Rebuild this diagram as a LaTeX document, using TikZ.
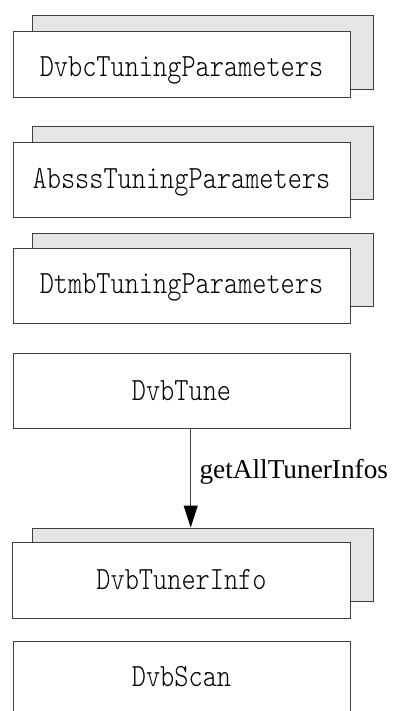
\documentclass[tikz,border=0pt]{standalone}
\usepackage{fontspec}
\newfontfamily\labelfont{Liberation Serif}
\newfontfamily\boxfont{Latin Modern Mono Light}
\usetikzlibrary{arrows.meta,fit}
\definecolor{edgegray}{gray}{0.25}
\definecolor{backgray}{gray}{0.9}
\tikzset{
  frontbox/.style={draw=edgegray, line width=1pt, fill=white, inner sep=0pt},
  backbox/.style={draw=edgegray, line width=1pt, fill=backgray, inner sep=0pt},
  boxtext/.style={anchor=base, inner sep=0pt, text=black, font=\boxfont\fontsize{27}{27}\selectfont},
  calllabel/.style={anchor=base west, inner sep=0pt, font=\labelfont\fontsize{27.3}{27}\selectfont},
  callarrow/.style={draw=edgegray, line width=1pt, -{Triangle[width=14pt,length=22pt,black]}}
}
\newcommand{\vtxt}[1]{\scalebox{1}[1.2]{#1}}
\begin{document}
\begin{tikzpicture}[x=1pt,y=-1pt]
\useasboundingbox (0,0) rectangle (402,711);
% DvbcTuningParameters
\node[backbox, fit={(32,15.7) (373,89.3)}] (b1back) {};
\node[frontbox, fit={(13.3,31.7) (350,97.3)}] (b1) {};
\node[boxtext] (t1) at (181.5,77) {\vtxt{DvbcTuningParameters}};
% AbsssTuningParameters
\node[backbox, fit={(32,126.7) (373,200)}] (b2back) {};
\node[frontbox, fit={(13.3,142.3) (350,217.3)}] (b2) {};
\node[boxtext] (t2) at (181.5,188.3) {\vtxt{AbsssTuningParameters}};
% DtmbTuningParameters
\node[backbox, fit={(32,233.3) (373,306.7)}] (b3back) {};
\node[frontbox, fit={(13.3,248.3) (350,323.3)}] (b3) {};
\node[boxtext] (t3) at (181.5,293.3) {\vtxt{DtmbTuningParameters}};
% DvbTune
\node[frontbox, fit={(13.3,353) (350,428)}] (tune) {};
\node[boxtext] (t4) at (181.5,400) {\vtxt{DvbTune}};
% DvbTunerInfo
\node[backbox, fit={(32,528) (373,601)}] (infoback) {};
\node[frontbox, fit={(12.3,542) (350,618)}] (info) {};
\node[boxtext] (t5) at (181.5,589) {\vtxt{DvbTunerInfo}};
% DvbScan
\node[frontbox, fit={(13.3,641) (350,716)}] (scan) {};
\node[boxtext] (t6) at (181.5,686.7) {\vtxt{DvbScan}};
% connector
\coordinate (ax) at (190.7,0);
\draw[callarrow] (tune.south -| ax) -- (infoback.north -| ax);
\node[calllabel] (lbl) at (199.3,478.3) {getAllTunerInfos};
\end{tikzpicture}
\end{document}
